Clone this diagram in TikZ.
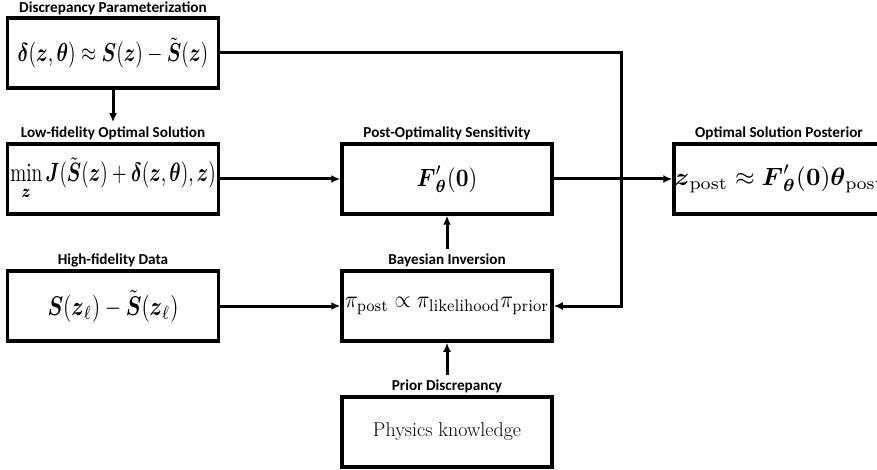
\documentclass[tikz,border=0pt]{standalone}
\usepackage{amsmath,amssymb}
\usepackage{graphicx}
\usepackage{fontspec}
\newfontfamily\lblfont{Carlito}
\usetikzlibrary{arrows.meta}
\newcommand{\mbx}[3]{\scalebox{#1}[#2]{#3}}
\begin{document}
\begin{tikzpicture}[x=1pt,y=-1pt,
  box/.style={draw,line width=3.5pt,minimum width=211pt,minimum height=70pt,inner sep=0pt},
  mtext/.style={inner sep=0pt},
  lbl/.style={font=\lblfont\bfseries\fontsize{15.2}{17}\selectfont,anchor=base,inner sep=0pt},
  conn/.style={line width=3pt,-{Latex[length=9pt,width=8pt]}}]
\useasboundingbox (0,0) rectangle (877,470);
% boxes
\node[box] (b1) at (113,53) {\mbx{1.95}{2.6}{$\boldsymbol{\delta}(\boldsymbol{z},\boldsymbol{\theta}) \approx \boldsymbol{S}(\boldsymbol{z}) - \tilde{\boldsymbol{S}}(\boldsymbol{z})$}};
\node[box] (b2) at (113,179) {\mbx{1.92}{2.65}{$\displaystyle\min_{\boldsymbol{z}} \boldsymbol{J}(\tilde{\boldsymbol{S}}(\boldsymbol{z}) + \boldsymbol{\delta}(\boldsymbol{z},\boldsymbol{\theta}),\boldsymbol{z})$}};
\node[box,minimum width=210pt] (b3) at (447,179) {\mbx{2.23}{2.5}{$\boldsymbol{F}'_{\boldsymbol{\theta}}(\boldsymbol{0})$}};
\node[box,minimum width=210pt] (b4) at (779,179) {};
\node[mtext,anchor=west] (b4t) at ([xshift=2pt]b4.west) {\mbx{2.53}{2.5}{$\boldsymbol{z}_{\mathrm{post}} \approx \boldsymbol{F}'_{\boldsymbol{\theta}}(\boldsymbol{0})\boldsymbol{\theta}_{\mathrm{post}}$}};
\node[box] (b5) at (113,306) {\mbx{2.10}{2.7}{$\boldsymbol{S}(\boldsymbol{z}_\ell) - \tilde{\boldsymbol{S}}(\boldsymbol{z}_\ell)$}};
\node[box,minimum width=210pt] (b6) at (447,306) {\mbx{2.10}{2.4}{$\pi_{\mathrm{post}} \propto \pi_{\mathrm{likelihood}}\pi_{\mathrm{prior}}$}};
\node[box,minimum width=210pt,font=\fontsize{20}{24}\selectfont] (b7) at (447,432) {Physics knowledge};
% labels
\node[lbl] (l1) at (113,13) {Discrepancy Parameterization};
\node[lbl] (l2) at (113,138) {Low-fidelity Optimal Solution};
\node[lbl] (l3) at (447,138) {Post-Optimality Sensitivity};
\node[lbl] (l4) at (779,138) {Optimal Solution Posterior};
\node[lbl] (l5) at (113,264) {High-fidelity Data};
\node[lbl] (l6) at (447,264) {Bayesian Inversion};
\node[lbl] (l7) at (447,390) {Prior Discrepancy};
% connectors
\coordinate (vx) at (621,0);
\draw[conn] (b1.south) -- ([yshift=5pt]l2.north);
\draw[conn] (b2.east) -- (b3.west);
\draw[conn] (b3.east) -- (b4.west);
\draw[conn] (b5.east) -- (b6.west);
\draw[conn] ([yshift=4pt]l6.north) -- (b3.south);
\draw[conn] ([yshift=4pt]l7.north) -- (b6.south);
\draw[conn] (b1.east) -- (b1.east -| vx) |- (b6.east);
\end{tikzpicture}
\end{document}
